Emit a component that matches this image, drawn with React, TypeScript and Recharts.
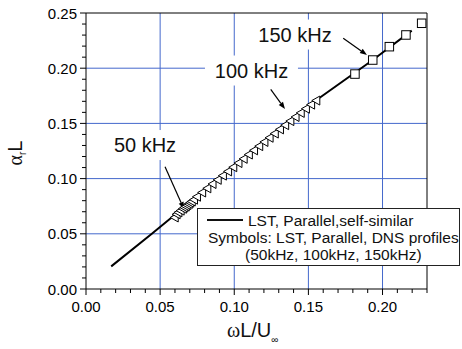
import React from 'react';
import {
  ComposedChart, Line, Scatter, XAxis, YAxis, CartesianGrid,
  ReferenceLine, ReferenceDot, Label,
} from 'recharts';

// LST parallel self-similar curve
const LINE_X = [0.017, 0.0444, 0.1, 0.1355, 0.155, 0.1934, 0.2197];
const LINE_Y = [0.0205, 0.05, 0.1114, 0.15, 0.1707, 0.2074, 0.234];

// DNS profile symbols, 50 kHz (dense triangles)
const T50_X = [0.0595, 0.0608, 0.062, 0.0635, 0.065, 0.066, 0.067, 0.068, 0.069, 0.07, 0.071, 0.0725];
const T50_Y = [0.0648, 0.0677, 0.0694, 0.071, 0.0727, 0.0738, 0.0749, 0.076, 0.0771, 0.0782, 0.0793, 0.0809];

// 100 kHz triangles
const T100_X = [0.0745, 0.078, 0.0815, 0.085, 0.0885, 0.092, 0.0955, 0.099, 0.1025, 0.106, 0.1095, 0.113,
  0.1165, 0.12, 0.1235, 0.127, 0.1305, 0.134, 0.1375, 0.141, 0.1445, 0.148, 0.1515, 0.155];
const T100_Y = [0.0836, 0.0874, 0.0912, 0.0951, 0.0989, 0.1027, 0.1065, 0.1103, 0.1141, 0.1179, 0.1218, 0.1256,
  0.1294, 0.1332, 0.137, 0.1408, 0.1446, 0.1484, 0.1521, 0.1558, 0.1595, 0.1633, 0.167, 0.1707];

// 150 kHz squares
const SQ_X = [0.1814, 0.1934, 0.2046, 0.2158, 0.2264];
const SQ_Y = [0.1947, 0.2074, 0.2195, 0.2301, 0.2407];

const X_TICKS = [0, 0.01, 0.02, 0.03, 0.04, 0.05, 0.06, 0.07, 0.08, 0.09, 0.1, 0.11, 0.12, 0.13, 0.14, 0.15,
  0.16, 0.17, 0.18, 0.19, 0.2, 0.21, 0.22, 0.23];
const Y_TICKS = [0, 0.01, 0.02, 0.03, 0.04, 0.05, 0.06, 0.07, 0.08, 0.09, 0.1, 0.11, 0.12, 0.13, 0.14, 0.15,
  0.16, 0.17, 0.18, 0.19, 0.2, 0.21, 0.22, 0.23, 0.24, 0.25];
const X_GRID = [0.05, 0.1, 0.15, 0.2];
const Y_GRID = [0.05, 0.1, 0.15, 0.2];

// annotations: label centre and arrow (from -> tip), in data units
const ANNOT_TEXT = ['50 kHz', '100 kHz', '150 kHz'];
const ANNOT_X = [0.0398, 0.1116, 0.141];
const ANNOT_Y = [0.1304, 0.1979, 0.2305];
const ARROW_X0 = [0.0533, 0.1246, 0.1735];
const ARROW_Y0 = [0.1108, 0.1809, 0.2271];
const ARROW_X1 = [0.0661, 0.1342, 0.1895];
const ARROW_Y1 = [0.0724, 0.163, 0.212];

const pts = (xs: number[], ys: number[]) => xs.map((x, i) => ({ x, y: ys[i] }));

const FONT = '"Liberation Sans", Arial, sans-serif';
const GRID_COLOR = '#4468cc';

const isMajor = (v: number) => Math.abs(v / 0.05 - Math.round(v / 0.05)) < 1e-6;

const XTick = (p: any) => {
  const v = p.payload.value;
  const ay = p.y - 10;
  const major = isMajor(v);
  return (
    <g>
      <line x1={p.x} x2={p.x} y1={ay} y2={ay + (major ? 6 : 4)} stroke="#000" />
      {major && (
        <text x={p.x} y={ay + 22.5} textAnchor="middle" fontSize={15} fontFamily={FONT} fill="#000">
          {v.toFixed(2)}
        </text>
      )}
    </g>
  );
};

const YTick = (p: any) => {
  const v = p.payload.value;
  const ax = p.x + 10;
  const major = isMajor(v);
  return (
    <g>
      <line x1={ax - (major ? 6 : 4)} x2={ax} y1={p.y} y2={p.y} stroke="#000" />
      {major && (
        <text x={ax - 9} y={p.y + 5.5} textAnchor="end" fontSize={15} fontFamily={FONT} fill="#000">
          {v.toFixed(2)}
        </text>
      )}
    </g>
  );
};

const Triangle = (p: any) => (
  <path
    d={`M${p.cx - 4},${p.cy} L${p.cx + 4},${p.cy - 4.5} L${p.cx + 4},${p.cy + 4.5} Z`}
    fill="#fff"
    stroke="#000"
    strokeWidth={1}
  />
);

const Square = (p: any) => (
  <rect x={p.cx - 4.25} y={p.cy - 4.25} width={8.5} height={8.5} fill="#fff" stroke="#000" strokeWidth={1} />
);

const Arrow = (p: any) => {
  const { x1, y1, x2, y2 } = p;
  const dx = x2 - x1;
  const dy = y2 - y1;
  const len = Math.sqrt(dx * dx + dy * dy);
  const ux = dx / len;
  const uy = dy / len;
  const bx = x2 - ux * 7;
  const by = y2 - uy * 7;
  return (
    <g>
      <line x1={x1} y1={y1} x2={bx} y2={by} stroke="#000" strokeWidth={1.2} />
      <path d={`M${x2},${y2} L${bx - uy * 2.6},${by + ux * 2.6} L${bx + uy * 2.6},${by - ux * 2.6} Z`} fill="#000" />
    </g>
  );
};

const annotShape = (text: string) => (p: any) => {
  const w = text.length * 11 + 16;
  return (
    <g>
      <rect x={p.cx - w / 2} y={p.cy - 15} width={w} height={30} fill="#fff" />
      <text x={p.cx} y={p.cy + 7.2} textAnchor="middle" fontSize={20} fontFamily={FONT} fill="#111">
        {text}
      </text>
    </g>
  );
};

const YLabel = (props: any) => {
  const vb = props.viewBox;
  const x = vb.x + 22;
  const y = vb.y + vb.height / 2 + 2;
  return (
    <text x={x} y={y} transform={`rotate(-90 ${x} ${y})`} textAnchor="middle" fontSize={20} fontFamily={FONT} fill="#111">
      <tspan fontFamily='"Liberation Serif", serif'>α</tspan>
      <tspan fontSize={10} dy={4}>r</tspan>
      <tspan dy={-4}>L</tspan>
    </text>
  );
};

const XLabel = (props: any) => {
  const vb = props.viewBox;
  return (
    <text x={vb.x + 141} y={vb.y + 48} fontSize={20} fontFamily={FONT} fill="#111">
      <tspan fontFamily='"Liberation Serif", serif'>ω</tspan>
      <tspan>L/U</tspan>
      <tspan fontSize={10} dy={6}>∞</tspan>
    </text>
  );
};

export default function App() {
  return (
    <div style={{ position: 'absolute', left: 0, top: 0, width: 462, height: 349, background: '#fff', fontFamily: FONT }}>
      <ComposedChart width={462} height={349} margin={{ top: 13, right: 35, bottom: 0, left: 0 }}>
        <CartesianGrid horizontalValues={Y_GRID} verticalValues={X_GRID} stroke={GRID_COLOR} strokeWidth={1} />
        <XAxis
          type="number"
          dataKey="x"
          domain={[0, 0.23]}
          ticks={X_TICKS}
          interval={0}
          height={60}
          tickSize={6}
          tickMargin={4}
          tickLine={false}
          axisLine={{ stroke: '#000' }}
          tick={XTick}
        >
          <Label content={XLabel} />
        </XAxis>
        <YAxis
          type="number"
          dataKey="y"
          domain={[0, 0.25]}
          ticks={Y_TICKS}
          interval={0}
          width={86}
          tickSize={6}
          tickMargin={4}
          tickLine={false}
          axisLine={{ stroke: '#000' }}
          tick={YTick}
        >
          <Label content={YLabel} />
        </YAxis>
        <ReferenceLine y={0.25} stroke="#000" />
        <ReferenceLine x={0.23} stroke="#000" />
        {ANNOT_TEXT.map((t, i) => (
          <ReferenceDot key={t} x={ANNOT_X[i]} y={ANNOT_Y[i]} r={0} shape={annotShape(t)} ifOverflow="visible" />
        ))}
        {ANNOT_TEXT.map((t, i) => (
          <ReferenceLine
            key={'a' + t}
            segment={[{ x: ARROW_X0[i], y: ARROW_Y0[i] }, { x: ARROW_X1[i], y: ARROW_Y1[i] }]}
            shape={Arrow}
            ifOverflow="visible"
          />
        ))}
        <Line data={pts(LINE_X, LINE_Y)} dataKey="y" type="linear" stroke="#000" strokeWidth={2} dot={false} isAnimationActive={false} />
        <Scatter data={pts(T50_X, T50_Y)} dataKey="y" shape={Triangle} isAnimationActive={false} />
        <Scatter data={pts(T100_X, T100_Y)} dataKey="y" shape={Triangle} isAnimationActive={false} />
        <Scatter data={pts(SQ_X, SQ_Y)} dataKey="y" shape={Square} isAnimationActive={false} />
      </ComposedChart>
      <div
        style={{
          position: 'absolute', left: 197, top: 208, width: 263, height: 58, boxSizing: 'border-box',
          border: '1px solid #222', background: '#fff', fontSize: 15.5, lineHeight: '17px', color: '#111',
          paddingTop: 3, whiteSpace: 'nowrap',
        }}
      >
        <div style={{ position: 'relative', paddingLeft: 50 }}>
          <span style={{ position: 'absolute', left: 9, top: 7, width: 36, height: 2, background: '#111' }} />
          LST, Parallel,self-similar
        </div>
        <div style={{ paddingLeft: 10 }}>Symbols: LST, Parallel, DNS profiles</div>
        <div style={{ paddingLeft: 47 }}>(50kHz, 100kHz, 150kHz)</div>
      </div>
    </div>
  );
}
